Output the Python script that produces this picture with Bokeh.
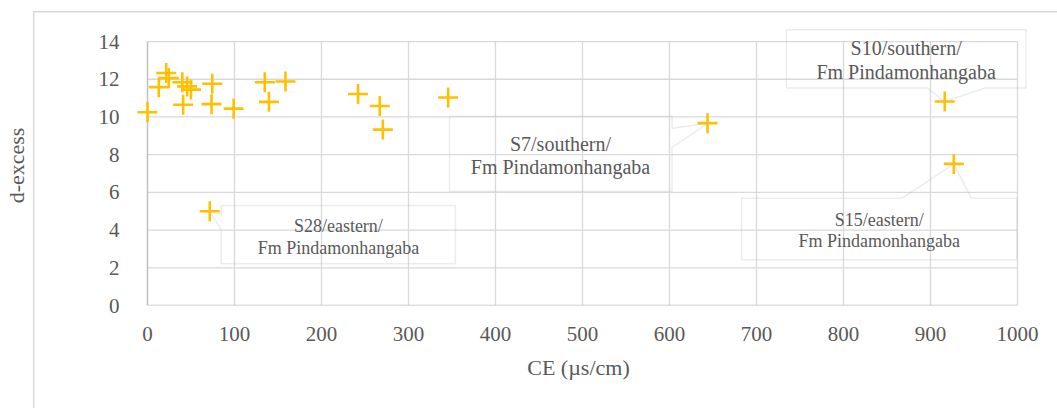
from bokeh.plotting import figure
from bokeh.models import FixedTicker, Range1d, PolyAnnotation, Label
from bokeh.embed import file_html
from bokeh.resources import INLINE

# ---- data ----
ce = [0, 13, 21.5, 24.5, 40, 41, 45.5, 50, 74.4, 73.6, 99, 134.8, 139.6, 158.6,
      242, 267, 270.5, 345.6, 643.7, 916.4, 926.8, 71.6]
d_excess = [10.25, 11.58, 12.33, 12.06, 11.84, 10.65, 11.62, 11.45, 11.76, 10.68,
            10.44, 11.84, 10.8, 11.88, 11.22, 10.58, 9.33, 11.03, 9.67, 10.82,
            7.51, 5.0]
x_ticks = [0, 100, 200, 300, 400, 500, 600, 700, 800, 900, 1000]
y_ticks = [0, 2, 4, 6, 8, 10, 12, 14]
x_title = "CE (µs/cm)"
y_title = "d-excess"

# callout annotations
callout_labels = [
    ("S7/southern/", "Fm Pindamonhangaba"),
    ("S10/southern/", "Fm Pindamonhangaba"),
    ("S15/eastern/", "Fm Pindamonhangaba"),
    ("S28/eastern/", "Fm Pindamonhangaba"),
]
callout_text_pos = [(474.7, 8.59, 7.33), (872, 13.64, 12.37), (841, 4.54, 3.41), (219.4, 4.19, 3.06)]
callout_font = ["20px", "20px", "18px", "18px"]
callout_xs = [
    [347.1, 602.9, 602.9, 643.7, 602.9, 602.9, 347.1],
    [734.3, 1009.8, 1009.8, 963.2, 916.1, 896.2, 734.3],
    [682.8, 867.5, 926.8, 946.8, 999.2, 999.2, 682.8],
    [84.7, 354, 354, 84.7, 84.7, 71.6, 84.7],
]
callout_ys = [
    [10.04, 10.04, 9.40, 9.65, 8.39, 6.06, 6.06],
    [14.62, 14.62, 11.54, 11.54, 10.82, 11.54, 11.54],
    [5.69, 5.69, 7.51, 5.69, 5.69, 2.42, 2.42],
    [5.30, 5.30, 2.21, 2.21, 4.03, 5.0, 4.81],
]

FONT = "Liberation Serif"
TXT = "#595959"
GRID = "#d9d9d9"
AXIS = "#bfbfbf"

p = figure(width=1057, height=408, output_backend="svg", toolbar_location=None,
           x_range=Range1d(-20.69, 1011.5), y_range=Range1d(0, 14.85),
           min_border_left=129, min_border_right=30, min_border_top=25,
           min_border_bottom=103)
# outer chart-area border (left and top edges) drawn as page background
p.styles = {"background": ("linear-gradient(#d9d9d9,#d9d9d9) 33px 11px / 1.5px 500px no-repeat, "
                           "linear-gradient(#d9d9d9,#d9d9d9) 33px 11px / 1200px 1.5px no-repeat, "
                           "#ffffff")}
p.background_fill_color = "white"
p.border_fill_color = None
p.outline_line_color = None
p.xgrid.visible = False
p.ygrid.visible = False

p.xaxis.ticker = FixedTicker(ticks=x_ticks)
p.yaxis.ticker = FixedTicker(ticks=y_ticks)
for ax in (p.xaxis, p.yaxis):
    ax.major_tick_line_color = None
    ax.minor_tick_line_color = None
    ax.major_tick_out = 0
    ax.major_tick_in = 0
    ax.axis_line_color = None
    ax.major_label_text_font = FONT
    ax.major_label_text_font_size = "21px"
    ax.major_label_text_color = TXT
    ax.axis_label_text_font = FONT
    ax.axis_label_text_font_size = "22px"
    ax.axis_label_text_color = TXT
    ax.axis_label_text_font_style = "normal"

p.xaxis.axis_label = x_title
p.yaxis.axis_label = y_title
p.xaxis.major_label_standoff = 21
p.yaxis.major_label_standoff = 10
p.xaxis.axis_label_standoff = 11
p.yaxis.axis_label_standoff = 67

# gridlines and axis lines within the data extent
x_lo, x_hi = x_ticks[0], x_ticks[-1]
y_lo, y_hi = y_ticks[0], y_ticks[-1]
p.segment(x0=x_ticks[1:], y0=[y_lo] * (len(x_ticks) - 1), x1=x_ticks[1:],
          y1=[y_hi] * (len(x_ticks) - 1), line_color=GRID, line_width=1.3)
p.segment(x0=[x_lo] * (len(y_ticks) - 1), y0=y_ticks[1:], x1=[x_hi] * (len(y_ticks) - 1),
          y1=y_ticks[1:], line_color=GRID, line_width=1.3)
p.segment(x0=[x_lo, x_lo], y0=[y_lo, y_lo], x1=[x_lo, x_hi], y1=[y_hi, y_lo],
          line_color=AXIS, line_width=1.5)

p.scatter(ce, d_excess, marker="cross", size=20, line_width=2.6, color="#FFC000")

for (l1, l2), (tx, ty1, ty2), fs, xs, ys in zip(callout_labels, callout_text_pos,
                                               callout_font, callout_xs, callout_ys):
    p.add_layout(PolyAnnotation(xs=xs, ys=ys, fill_alpha=0, fill_color=None,
                                line_color=AXIS, line_width=1.5))
    for t, ty in ((l1, ty1), (l2, ty2)):
        p.add_layout(Label(x=tx, y=ty, text=t, text_align="center",
                           text_baseline="middle", text_font=FONT,
                           text_font_size=fs, text_color=TXT))

open("out.html", "w").write(file_html(p, INLINE))
